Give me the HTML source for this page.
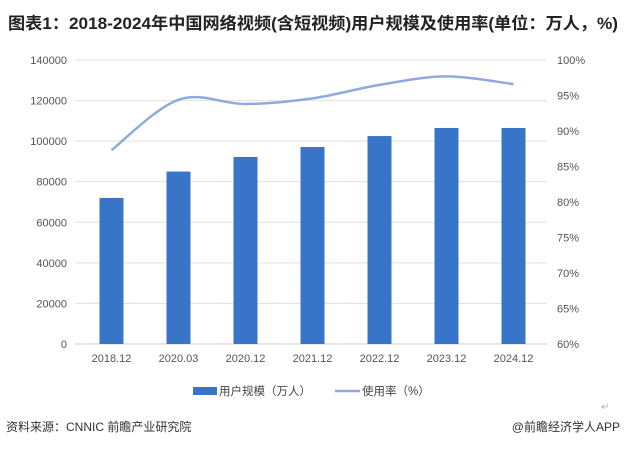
<!DOCTYPE html>
<html><head><meta charset="utf-8"><style>
body{margin:0;background:#fff;width:626px;height:448px;overflow:hidden;font-family:"Liberation Sans","Noto Sans CJK SC",sans-serif;}
</style></head><body>
<svg width="626" height="448" xmlns="http://www.w3.org/2000/svg">
<text x="8" y="29" font-size="16.5" font-weight="bold" fill="#222" textLength="610" lengthAdjust="spacingAndGlyphs" font-family="Liberation Sans,Noto Sans CJK SC,sans-serif">图表1：2018-2024年中国网络视频(含短视频)用户规模及使用率(单位：万人，%)</text>
<g id="grid"></g><g id="bars"></g><g id="line"></g><g id="axes"></g>
<g>
<rect x="193" y="387" width="24" height="8" fill="#3875c9"/>
<text x="219" y="395" font-size="11.5" fill="#444">用户规模（万人）</text>
<line x1="335" y1="391" x2="360" y2="391" stroke="#8faadc" stroke-width="2.5"/>
<text x="362" y="395" font-size="11.5" fill="#444">使用率（%）</text>
</g>
<text x="601" y="410" font-size="10" fill="#aaa">↵</text>
<text x="6" y="431" font-size="12" fill="#333">资料来源：CNNIC 前瞻产业研究院</text>
<text x="620" y="431" font-size="12" fill="#333" text-anchor="end">@前瞻经济学人APP</text>
</svg>
<script>
const categories=["2018.12","2020.03","2020.12","2021.12","2022.12","2023.12","2024.12"];
const users=[72000,85000,92200,97100,102500,106500,106500];
const rate=[87.3,94.4,93.8,94.6,96.5,97.7,96.6];
const leftTicks=[0,20000,40000,60000,80000,100000,120000,140000];
const rightTicks=[60,65,70,75,80,85,90,95,100];
const NS="http://www.w3.org/2000/svg";
const x0=78,x1=547,yTop=60,yBot=344;
const band=(x1-x0)/categories.length;
const xc=i=>x0+band*(i+0.5);
const yL=v=>yBot-(v/140000)*(yBot-yTop);
const yR=v=>yBot-((v-60)/40)*(yBot-yTop);
function mk(t,a,p){const e=document.createElementNS(NS,t);for(const k in a)e.setAttribute(k,a[k]);p.appendChild(e);return e;}
const grid=document.getElementById('grid'),axes=document.getElementById('axes');
leftTicks.forEach(v=>{
 const l=mk('line',{x1:x0-3,x2:x1,y1:yL(v),y2:yL(v),stroke:v===0?'#c8c8c8':'#e0e0e0','stroke-width':1},grid);
 
 
 const t=mk('text',{x:67,y:yL(v)+4,'text-anchor':'end','font-size':11,fill:'#555'},axes);t.textContent=v;
 
 
});
rightTicks.forEach(v=>{
 const t=mk('text',{x:557,y:yR(v)+4,'font-size':11,fill:'#555'},axes);t.textContent=v+'%';
 
 
});
categories.forEach((c,i)=>{
 const t=mk('text',{x:xc(i),y:362,'text-anchor':'middle','font-size':11,fill:'#555'},axes);t.textContent=c;
 
 
});
const bars=document.getElementById('bars');
users.forEach((v,i)=>{
 const r=mk('rect',{x:xc(i)-12,y:yL(v),width:24,height:yBot-yL(v),fill:'#3875c9'},bars);
 
 
});
const pts=rate.map((v,i)=>[xc(i),yR(v)]);
let d='M'+pts[0][0]+','+pts[0][1];
for(let i=0;i<pts.length-1;i++){
 const p0=pts[i-1]||pts[i],p1=pts[i],p2=pts[i+1],p3=pts[i+2]||p2,k=0.17;
 d+=` C${p1[0]+(p2[0]-p0[0])*k},${p1[1]+(p2[1]-p0[1])*k} ${p2[0]-(p3[0]-p1[0])*k},${p2[1]-(p3[1]-p1[1])*k} ${p2[0]},${p2[1]}`;
}
const path=mk('path',{d:d,fill:'none',stroke:'#8faadc','stroke-width':2.5},document.getElementById('line'));


</script>
</body></html>
